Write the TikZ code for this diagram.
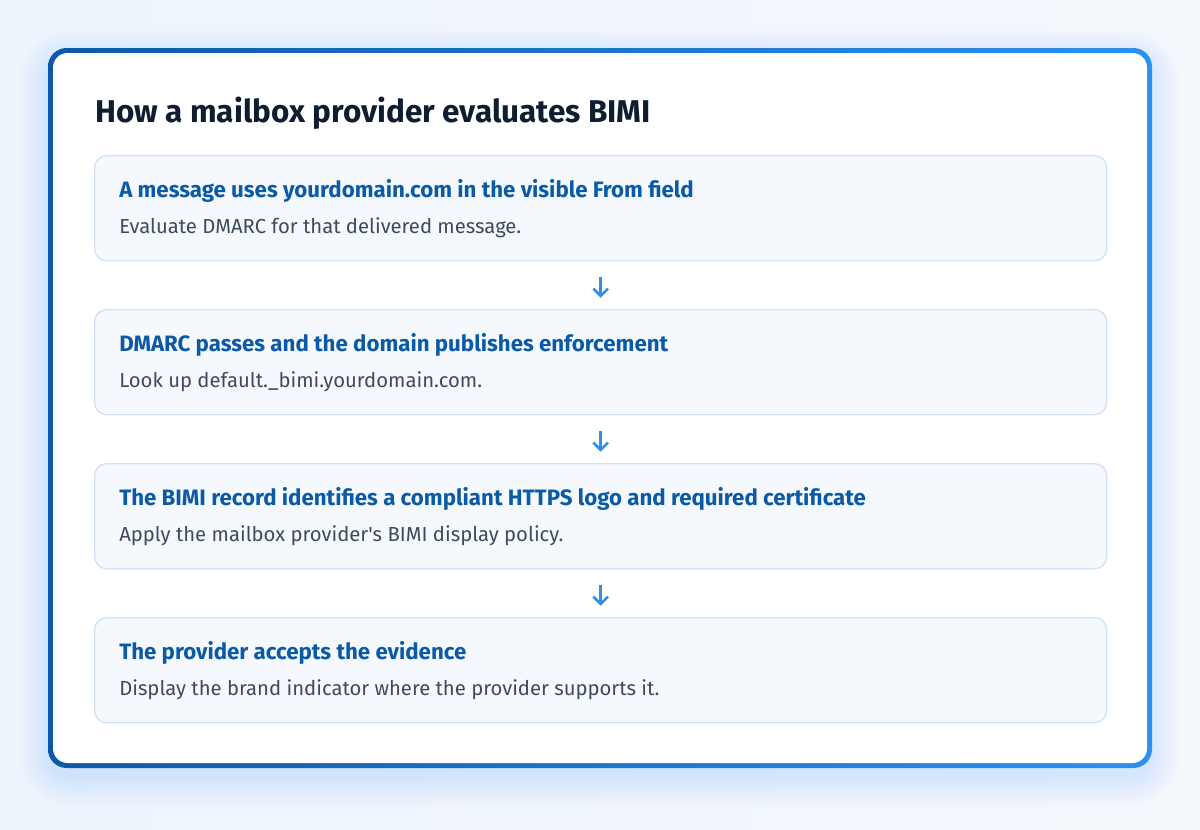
\documentclass[tikz,border=0pt]{standalone}
\usepackage{fontspec}
\setmainfont{Fira Sans}
\usetikzlibrary{arrows.meta}
\definecolor{pagebg}{HTML}{EDF4FC}
\definecolor{pagebgb}{HTML}{F4F8FD}
\definecolor{framea}{HTML}{0D59A6}
\definecolor{frameb}{HTML}{2C90F0}
\definecolor{boxfill}{HTML}{F5F9FD}
\definecolor{boxline}{HTML}{D2E2F2}
\definecolor{headblue}{HTML}{0B5AA6}
\definecolor{bodygray}{HTML}{3E4B5C}
\definecolor{titleink}{HTML}{0E1D30}
\definecolor{arrowblue}{HTML}{2F8FEA}
\tikzset{
  stepbox/.style={draw=boxline, line width=1pt, fill=boxfill, rounded corners=9pt,
    minimum width=759pt, minimum height=78.75pt, anchor=north west, inner sep=0pt},
  heading/.style={anchor=base west, inner sep=0pt, text=headblue, font=\fontsize{16.7}{20}\selectfont\bfseries},
  detail/.style={anchor=base west, inner sep=0pt, text=bodygray, font=\fontsize{15.2}{18}\selectfont},
  flow/.style={draw=arrowblue, line width=1.9pt, -{Straight Barb[length=5.5pt,width=11pt,line width=1.9pt]},
    shorten <=12pt, shorten >=8.5pt}
}
\begin{document}
\begin{tikzpicture}[x=0.75pt,y=-0.75pt]
\useasboundingbox (0,0) rectangle (1200,829);
%fondo%
\shade [left color=pagebg, right color=pagebgb] (0,0) rectangle (1200,829);
\foreach \s in {2,4,...,30}
  \fill [blue!55!cyan, opacity=0.009, rounded corners=16pt+\s*0.75pt] (50-\s,50-\s+10) rectangle (1150+\s,766+\s+10);
%marco%
\shade [even odd rule, left color=framea, right color=frameb, rounded corners=14pt]
  (48,48) rectangle (1152,768)
  (53,53) rectangle (1147,763);
\fill [white, rounded corners=11pt] (53,53) rectangle (1147,763);
\node [anchor=base west, inner sep=0pt, text=titleink, font=\fontsize{23.6}{28}\selectfont\bfseries]
  (title) at (95,122) {How a mailbox provider evaluates BIMI};
%pasos%
\node [stepbox] (s1) at (94,155) {};
\node [stepbox] (s2) at (94,309) {};
\node [stepbox] (s3) at (94,463) {};
\node [stepbox] (s4) at (94,617) {};
\node [heading] (h1) at (119,197) {A message uses yourdomain.com in the visible From field};
\node [detail] (d1) at (119,233) {Evaluate DMARC for that delivered message.};
\node [heading] (h2) at (119,351) {DMARC passes and the domain publishes enforcement};
\node [detail] (d2) at (119,387) {Look up default.\_bimi.yourdomain.com.};
\node [heading] (h3) at (119,505) {The BIMI record identifies a compliant HTTPS logo and required certificate};
\node [detail] (d3) at (119,541) {Apply the mailbox provider\textquotesingle s BIMI display policy.};
\node [heading] (h4) at (119,659) {The provider accepts the evidence};
\node [detail] (d4) at (119,695) {Display the brand indicator where the provider supports it.};
\draw [flow] (s1.south) -- (s2.north);
\draw [flow] (s2.south) -- (s3.north);
\draw [flow] (s3.south) -- (s4.north);
\end{tikzpicture}
\end{document}
